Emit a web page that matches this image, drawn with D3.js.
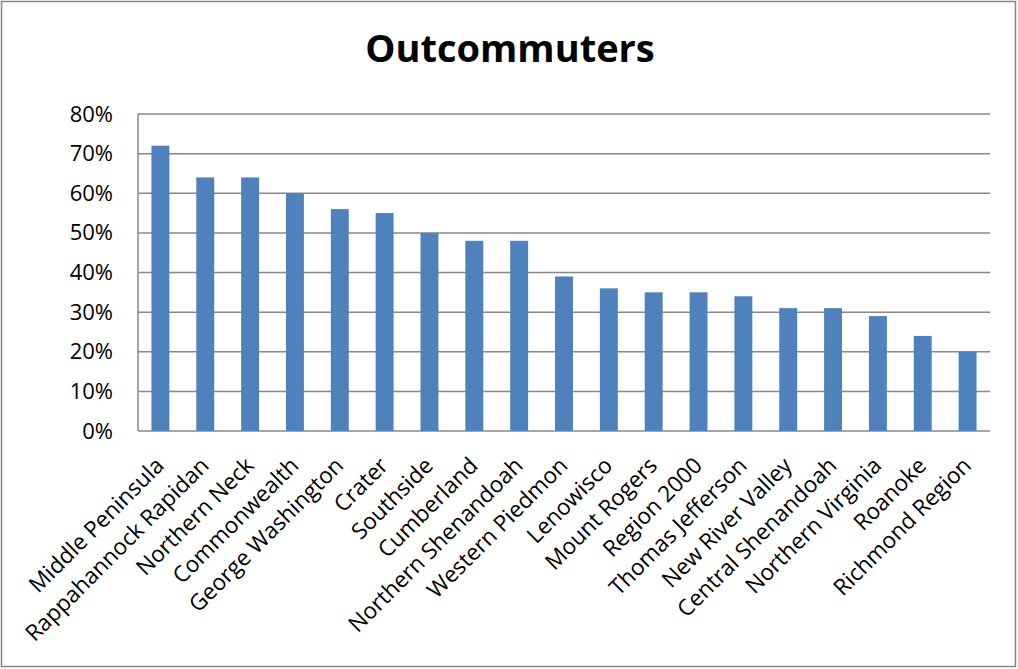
<!DOCTYPE html>
<html>
<head>
<meta charset="utf-8">
<script src="https://cdn.jsdelivr.net/npm/d3@7.9.0/dist/d3.min.js"></script>
<style>
  body { margin: 0; background: #fff; }
  svg { display: block; font-family: "Open Sans", Lato, sans-serif; }
</style>
</head>
<body>
<svg id="chart" width="1018" height="669"></svg>
<script>
// chart data
const regions = [
  'Middle Peninsula', 'Rappahannock Rapidan', 'Northern Neck', 'Commonwealth',
  'George Washington', 'Crater', 'Southside', 'Cumberland', 'Northern Shenandoah',
  'Western Piedmon', 'Lenowisco', 'Mount Rogers', 'Region 2000', 'Thomas Jefferson',
  'New River Valley', 'Central Shenandoah', 'Northern Virginia', 'Roanoke', 'Richmond Region'
];
const shares = [0.72, 0.64, 0.64, 0.60, 0.56, 0.55, 0.50, 0.48, 0.48, 0.39,
                0.36, 0.35, 0.35, 0.34, 0.31, 0.31, 0.29, 0.24, 0.20];
const yTicks = [0, 0.1, 0.2, 0.3, 0.4, 0.5, 0.6, 0.7, 0.8];
const chartTitle = 'Outcommuters';

const svg = d3.select('#chart');
const W = 1018, H = 669;
const plot = { left: 138, right: 990, top: 114, bottom: 431 };

// outer frame
svg.append('rect')
  .attr('x', 1.5).attr('y', 1.5)
  .attr('width', W - 4).attr('height', H - 4)
  .attr('fill', '#fff')
  .attr('stroke', '#868686')
  .attr('stroke-width', 1.5);

svg.append('text')
  .attr('x', 510).attr('y', 62)
  .attr('text-anchor', 'middle')
  .attr('font-size', 38)
  .attr('font-weight', 'bold')
  .text(chartTitle);

let x = d3.scaleBand()
  .domain(regions)
  .range([plot.left, plot.right])
  .paddingInner(0.6)
  .paddingOuter(0.3);

let y = d3.scaleLinear()
  .domain([0, 0.8])
  .range([plot.bottom, plot.top]);

// gridlines
svg.append('g')
  .selectAll('line')
  .data(yTicks)
  .join('line')
  .attr('x1', plot.left).attr('x2', plot.right)
  .attr('y1', d => y(d)).attr('y2', d => y(d))
  .attr('stroke', '#888')
  .attr('stroke-width', 1.5);

// left axis line
svg.append('line')
  .attr('x1', plot.left).attr('x2', plot.left)
  .attr('y1', plot.top).attr('y2', plot.bottom)
  .attr('stroke', '#888')
  .attr('stroke-width', 1.5);

// y axis labels
let yAxis = d3.axisLeft(y)
  .tickValues(yTicks)
  .tickFormat(d3.format('.0%'))
  .tickSize(0)
  .tickPadding(25);
let yg = svg.append('g')
  .attr('transform', `translate(${plot.left},0)`)
  .call(yAxis);
yg.select('.domain').remove();
yg.selectAll('text')
  .attr('font-size', 22)
  .attr('font-family', '"Open Sans", sans-serif')
  .attr('fill', '#000');

// bars
svg.append('g')
  .selectAll('rect')
  .data(shares)
  .join('rect')
  .attr('x', (d, i) => x(regions[i]))
  .attr('y', d => y(d))
  .attr('width', x.bandwidth())
  .attr('height', d => y(0) - y(d))
  .attr('fill', '#4F81BD');

// category labels, rotated
svg.append('g')
  .selectAll('text')
  .data(regions)
  .join('text')
  .attr('transform', d => `translate(${x(d) + x.bandwidth() / 2 + 5},${plot.bottom + 36}) rotate(-45)`)
  .attr('text-anchor', 'end')
  .attr('font-size', 22.5)
  .text(d => d);
</script>
</body>
</html>
